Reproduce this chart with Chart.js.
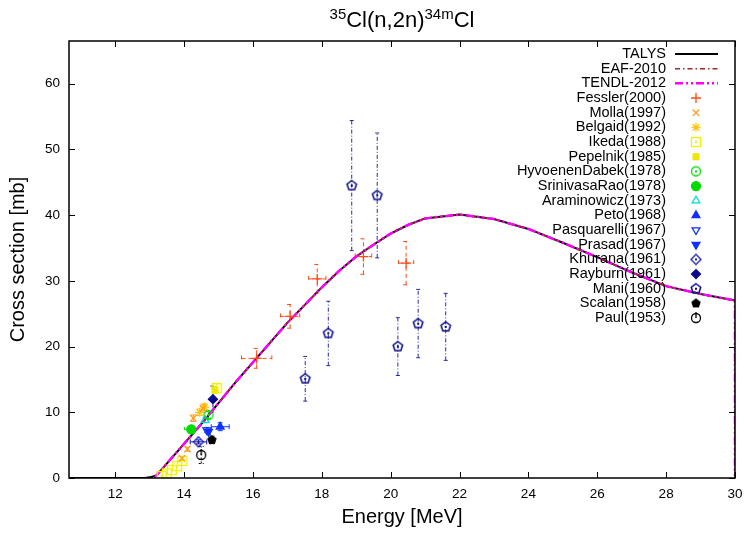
<!DOCTYPE html>
<html>
<head>
<meta charset="utf-8">
<title>35Cl(n,2n)34mCl</title>
<script src="https://cdn.jsdelivr.net/npm/chart.js@4.4.0/dist/chart.umd.min.js"></script>
<style>
  html, body { margin: 0; padding: 0; background: #fff; }
  #wrap { position: relative; width: 746px; height: 533px; }
  #title {
    position: absolute; left: 69px; width: 666px; top: 7px;
    text-align: center; font: 22px "Liberation Sans", Arial, sans-serif; color: #000;
  }
  #title sup { font-size: 15px; vertical-align: 8px; line-height: 0; }
</style>
</head>
<body>
<div id="wrap">
  <canvas id="xs" width="746" height="533"></canvas>
  <div id="title"><sup>35</sup>Cl(n,2n)<sup>34m</sup>Cl</div>
</div>
<script>
// axis ticks
const xTicks = [12, 14, 16, 18, 20, 22, 24, 26, 28, 30];
const yTicks = [0, 10, 20, 30, 40, 50, 60];

// calculated and evaluated cross sections (energy in MeV, xs in mb)
const talysE  = [10.66, 11, 12, 12.5, 12.9, 13.0, 13.2, 13.5, 14, 14.5, 15, 15.5, 16, 16.5, 17, 17.5, 18, 18.5, 19, 19.5, 20, 20.5, 21, 22, 23, 24, 25, 26, 27, 28, 29, 30];
const talysXs = [0, 0, 0, 0, 0.05, 0.1, 0.4, 2.2, 5.2, 8.2, 11.4, 14.6, 17.6, 20.6, 23.6, 26.3, 29.0, 31.5, 33.7, 35.5, 37.2, 38.5, 39.5, 40.1, 39.4, 37.9, 35.8, 33.6, 31.3, 29.2, 28.0, 27.0];
const evalE   = [13.15, 13.2, 13.5, 14, 14.5, 15, 15.5, 16, 16.5, 17, 17.5, 18, 18.5, 19, 19.5, 20, 20.5, 21, 22, 23, 24, 25, 26, 27, 28, 29, 30, 30];
const eafXs   = [0, 0.4, 2.2, 5.2, 8.2, 11.4, 14.6, 17.6, 20.6, 23.6, 26.3, 29.0, 31.5, 33.7, 35.5, 37.2, 38.5, 39.5, 40.1, 39.4, 37.9, 35.8, 33.6, 31.3, 29.2, 28.0, 27.0, 0];
const tendlXs = [0, 0.4, 2.2, 5.2, 8.2, 11.4, 14.6, 17.6, 20.6, 23.6, 26.3, 29.0, 31.5, 33.7, 35.5, 37.2, 38.5, 39.5, 40.1, 39.4, 37.9, 35.8, 33.6, 31.3, 29.2, 28.0, 27.0, 0];

// measurements: [E, xs, dE, dxs]
const fessler = [[16.11, 18.2, 0.44, 1.5], [17.08, 24.6, 0.28, 1.8], [17.87, 30.3, 0.25, 2.2], [19.21, 33.7, 0.24, 2.7], [20.45, 32.7, 0.22, 3.3]];
const molla = [[13.94, 3.0, 0, 0.3], [14.1, 4.4, 0, 0.3], [14.27, 9.1, 0, 0.5], [14.55, 10.6, 0, 0.6]];
const belgaid = [[14.45, 10.0, 0, 0.5], [14.6, 10.8, 0, 0.5]];
const ikeda = [[13.35, 0.3, 0, 0], [13.5, 0.7, 0, 0], [13.65, 1.2, 0, 0], [13.8, 1.8, 0, 0], [13.95, 2.6, 0, 0], [14.95, 13.7, 0, 0.6]];
const pepelnik = [[14.9, 13.4, 0, 0.5]];
const hyvoenen = [[14.71, 9.6, 0, 0.5]];
const srinivasa = [[14.21, 7.4, 0.2, 0.3]];
const araminowicz = [[14.61, 8.8, 0, 0.4]];
const peto = [[15.05, 7.8, 0.26, 0.6]];
const pasquarelli = [[14.66, 7.3, 0, 0.4]];
const prasad = [[14.71, 7.05, 0, 0.4]];
const khurana = [[14.42, 5.5, 0.24, 0.3]];
const rayburn = [[14.84, 12.0, 0, 2.0]];
const mani = [[17.52, 15.1, 0, 3.4], [18.19, 22.0, 0, 4.9], [18.87, 44.5, 0, 9.9], [19.61, 43.0, 0, 9.5], [20.21, 20.0, 0, 4.4], [20.80, 23.5, 0, 5.2], [21.60, 23.0, 0, 5.1]];
const scalan = [[14.81, 5.8, 0, 0.6]];
const paul = [[14.5, 3.5, 0, 1.3]];

// small canvases for marker shapes Chart.js does not have
function marker(size, paint) {
  const c = document.createElement('canvas');
  c.width = size; c.height = size;
  const g = c.getContext('2d');
  g.translate(size / 2, size / 2);
  paint(g);
  return c;
}
function pentagonPath(g, r) {
  g.beginPath();
  for (let k = 0; k < 5; k++) {
    const a = -Math.PI / 2 + k * 2 * Math.PI / 5;
    g.lineTo(r * Math.cos(a), r * Math.sin(a));
  }
  g.closePath();
}
function dot(g, color) {
  g.fillStyle = color;
  g.fillRect(-1, -1, 2, 2);
}
const openSquareDot = color => marker(12, g => {
  g.strokeStyle = color; g.lineWidth = 1.3;
  g.strokeRect(-4.5, -4.5, 9, 9); dot(g, color);
});
const openCircleDot = color => marker(12, g => {
  g.strokeStyle = color; g.lineWidth = 1.3;
  g.beginPath(); g.arc(0, 0, 4.5, 0, 2 * Math.PI); g.stroke(); dot(g, color);
});
const openDiamondDot = color => marker(14, g => {
  g.strokeStyle = color; g.lineWidth = 1.3;
  g.beginPath(); g.moveTo(0, -5); g.lineTo(5, 0); g.lineTo(0, 5); g.lineTo(-5, 0); g.closePath(); g.stroke();
  dot(g, color);
});
const pentagon = (color, filled) => marker(14, g => {
  pentagonPath(g, 5);
  if (filled) { g.fillStyle = color; g.fill(); }
  else { g.strokeStyle = color; g.lineWidth = 1.5; g.stroke(); dot(g, color); }
});
const circleBar = color => marker(14, g => {
  g.strokeStyle = color; g.lineWidth = 1.3;
  g.beginPath(); g.arc(0, 0, 4.5, 0, 2 * Math.PI); g.stroke();
  g.beginPath(); g.moveTo(0, -6); g.lineTo(0, 0); g.stroke();
});

const toPoints = rows => rows.map(r => ({ x: r[0], y: r[1], dx: r[2], dy: r[3] }));
const curve = (es, vs) => es.map((e, i) => ({ x: e, y: vs[i] }));

function meas(label, rows, color, style, extra) {
  return Object.assign({
    label: label,
    data: toPoints(rows),
    pointStyle: style,
    pointRadius: 4.5,
    pointHoverRadius: 4.5,
    borderColor: color,
    backgroundColor: 'rgba(0,0,0,0)',
    pointBorderWidth: 1.3,
    errColor: color,
    errDash: [],
    errCap: 2.5,
    order: 0
  }, extra || {});
}

const datasets = [
  { label: 'TALYS', data: curve(talysE, talysXs), showLine: true, borderColor: '#000', borderWidth: 2, pointRadius: 0, order: 3 },
  { label: 'EAF-2010', data: curve(evalE, eafXs), showLine: true, borderColor: '#a02828', borderWidth: 1.5, borderDash: [5, 3, 1.5, 3], pointRadius: 0, order: 2 },
  { label: 'TENDL-2012', data: curve(evalE, tendlXs), showLine: true, borderColor: '#ff00ff', borderWidth: 2.5, borderDash: [8, 3, 2, 3, 2, 3], pointRadius: 0, order: 1 },
  meas('Fessler(2000)', fessler, '#ff4a14', 'cross', { pointRadius: 5, errDash: [4, 3], errCap: 3 }),
  meas('Molla(1997)', molla, '#ff9a1a', 'crossRot'),
  meas('Belgaid(1992)', belgaid, '#ffc20e', 'star'),
  meas('Ikeda(1988)', ikeda, '#f0f000', openSquareDot('#f0f000')),
  meas('Pepelnik(1985)', pepelnik, '#f0e400', 'rect', { backgroundColor: '#f0e400', pointRadius: 4 }),
  meas('HyvoenenDabek(1978)', hyvoenen, '#00dc00', openCircleDot('#00dc00')),
  meas('SrinivasaRao(1978)', srinivasa, '#00dc00', 'circle', { backgroundColor: '#00dc00', errDash: [3, 2] }),
  meas('Araminowicz(1973)', araminowicz, '#00dcdc', 'triangle'),
  meas('Peto(1968)', peto, '#1030ff', 'triangle', { backgroundColor: '#1030ff' }),
  meas('Pasquarelli(1967)', pasquarelli, '#1030ff', 'triangle', { pointRotation: 180 }),
  meas('Prasad(1967)', prasad, '#1030ff', 'triangle', { backgroundColor: '#1030ff', pointRotation: 180 }),
  meas('Khurana(1961)', khurana, '#1a1aa8', openDiamondDot('#1a1aa8')),
  meas('Rayburn(1961)', rayburn, '#0a0a8a', 'rectRot', { backgroundColor: '#0a0a8a', errDash: [3, 2] }),
  meas('Mani(1960)', mani, '#0a0a8a', pentagon('#0a0a8a', false), { errColor: '#2a2aa0', errDash: [4, 2, 1, 2], errCap: 2 }),
  meas('Scalan(1958)', scalan, '#000', pentagon('#000', true), { errDash: [2, 2] }),
  meas('Paul(1953)', paul, '#000', circleBar('#000'), { errDash: [2, 2] })
];

// error bars under the markers
const errorBars = {
  id: 'errorBars',
  beforeDatasetsDraw(chart) {
    const { ctx, scales: { x, y } } = chart;
    ctx.save();
    chart.data.datasets.forEach(ds => {
      if (!ds.errColor) return;
      ctx.strokeStyle = ds.errColor;
      ctx.lineWidth = 1;
      ctx.setLineDash(ds.errDash);
      ds.data.forEach(p => {
        const px = x.getPixelForValue(p.x), py = y.getPixelForValue(p.y);
        const c = ds.errCap;
        ctx.beginPath();
        if (p.dy) {
          const y1 = y.getPixelForValue(p.y - p.dy), y2 = y.getPixelForValue(p.y + p.dy);
          ctx.moveTo(px, y1); ctx.lineTo(px, y2);
          ctx.moveTo(px - c, y1); ctx.lineTo(px + c, y1);
          ctx.moveTo(px - c, y2); ctx.lineTo(px + c, y2);
        }
        if (p.dx) {
          const x1 = x.getPixelForValue(p.x - p.dx), x2 = x.getPixelForValue(p.x + p.dx);
          ctx.moveTo(x1, py); ctx.lineTo(x2, py);
          ctx.moveTo(x1, py - c); ctx.lineTo(x1, py + c);
          ctx.moveTo(x2, py - c); ctx.lineTo(x2, py + c);
        }
        ctx.stroke();
      });
    });
    ctx.restore();
  }
};

// frame with inward ticks on all four sides
const frame = {
  id: 'frame',
  afterDatasetsDraw(chart) {
    const { ctx, chartArea: a, scales: { x, y } } = chart;
    ctx.save();
    ctx.strokeStyle = '#000';
    ctx.lineWidth = 1.5;
    ctx.setLineDash([]);
    ctx.strokeRect(a.left, a.top, a.right - a.left, a.bottom - a.top);
    ctx.lineWidth = 1;
    ctx.beginPath();
    xTicks.forEach(v => {
      const px = Math.round(x.getPixelForValue(v)) + 0.5;
      ctx.moveTo(px, a.bottom); ctx.lineTo(px, a.bottom - 6);
      ctx.moveTo(px, a.top); ctx.lineTo(px, a.top + 6);
    });
    yTicks.forEach(v => {
      const py = Math.round(y.getPixelForValue(v)) + 0.5;
      ctx.moveTo(a.left, py); ctx.lineTo(a.left + 6, py);
      ctx.moveTo(a.right, py); ctx.lineTo(a.right - 6, py);
    });
    ctx.stroke();
    ctx.restore();
  }
};

// gnuplot-style key: right-aligned text, sample on the right
const key = {
  id: 'key',
  afterDraw(chart) {
    const { ctx } = chart;
    const textRight = 666, sx1 = 675, sx2 = 718, mx = 696, top = 54, step = 14.67;
    ctx.save();
    ctx.font = '14.5px "Liberation Sans", Arial, sans-serif';
    ctx.textAlign = 'right';
    ctx.textBaseline = 'middle';
    chart.data.datasets.forEach((ds, i) => {
      const ly = top + i * step;
      ctx.fillStyle = '#000';
      ctx.fillText(ds.label, textRight, ly);
      if (ds.showLine) {
        ctx.strokeStyle = ds.borderColor;
        ctx.lineWidth = ds.borderWidth;
        ctx.setLineDash(ds.borderDash || []);
        ctx.beginPath(); ctx.moveTo(sx1, ly); ctx.lineTo(sx2, ly); ctx.stroke();
        ctx.setLineDash([]);
      } else {
        ctx.strokeStyle = ds.borderColor;
        ctx.fillStyle = ds.backgroundColor;
        ctx.lineWidth = ds.pointBorderWidth;
        Chart.helpers.drawPoint(ctx, {
          pointStyle: ds.pointStyle, radius: ds.pointRadius,
          rotation: ds.pointRotation || 0, borderWidth: ds.pointBorderWidth
        }, mx, ly);
      }
    });
    ctx.restore();
  }
};

Chart.defaults.font.family = '"Liberation Sans", Arial, sans-serif';
Chart.defaults.color = '#000';

new Chart(document.getElementById('xs'), {
  type: 'scatter',
  data: { datasets: datasets },
  options: {
    responsive: false,
    animation: false,
    devicePixelRatio: 1,
    layout: { padding: { top: 41, right: 11, left: 0, bottom: 0 } },
    plugins: { legend: { display: false }, tooltip: { enabled: false } },
    elements: { line: { tension: 0 } },
    scales: {
      x: {
        type: 'linear', min: 10.66, max: 30,
        afterBuildTicks: s => { s.ticks = xTicks.map(v => ({ value: v })); },
        afterFit: s => { s.height = 55; s.paddingLeft = 0; s.paddingRight = 0; },
        grid: { display: false, drawTicks: false },
        border: { display: false },
        ticks: { font: { size: 13.5 }, padding: 8, maxRotation: 0 },
        title: { display: true, text: 'Energy [MeV]', font: { size: 20 }, padding: { top: 0, bottom: 4 } }
      },
      y: {
        type: 'linear', min: 0, max: 66.5,
        afterBuildTicks: s => { s.ticks = yTicks.map(v => ({ value: v })); },
        afterFit: s => { s.width = 69; s.paddingTop = 0; s.paddingBottom = 0; },
        grid: { display: false, drawTicks: false },
        border: { display: false },
        ticks: { font: { size: 13.5 }, padding: 9 },
        title: { display: true, text: 'Cross section [mb]', font: { size: 20 }, padding: { top: 6, bottom: 0 } }
      }
    }
  },
  plugins: [errorBars, frame, key]
});
</script>
</body>
</html>
